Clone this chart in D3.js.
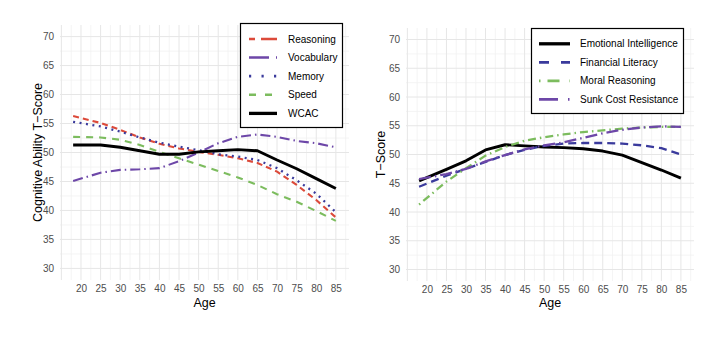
<!DOCTYPE html>
<html><head><meta charset="utf-8">
<script src="https://cdn.jsdelivr.net/npm/d3@7"></script>
<style>
body{margin:0;background:#fff;}
svg text{font-family:"Liberation Sans",Arial,Helvetica,sans-serif;}
</style></head>
<body>
<svg id="chart" width="721" height="356"></svg>
<script>
// ---------- data ----------
const ages = [18,25,30,35,40,45,50,55,60,65,70,75,80,85];
const xTicks = [20,25,30,35,40,45,50,55,60,65,70,75,80,85];
const yTicks = [30,35,40,45,50,55,60,65,70];

const leftNames = ["Reasoning","Vocabulary","Memory","Speed","WCAC"];
const reasoning  = [56.3,55.1,53.9,52.6,51.5,50.7,50.1,49.6,49.0,48.2,46.7,44.4,41.8,38.8];
const vocabulary = [45.1,46.5,47.0,47.1,47.3,48.5,50.0,51.6,52.7,53.1,52.7,52.0,51.6,50.9];
const memory     = [55.3,54.5,53.6,52.6,51.7,51.0,50.4,49.7,49.3,48.7,47.3,45.2,42.9,39.7];
const speed      = [52.7,52.6,52.2,51.3,50.1,49.0,47.9,46.8,45.7,44.4,42.8,41.5,39.9,38.2];
const wcac       = [51.3,51.3,50.9,50.3,49.7,49.7,50.1,50.3,50.5,50.3,48.7,47.2,45.5,43.8];

const rightNames = ["Emotional Intelligence","Financial Literacy","Moral Reasoning","Sunk Cost Resistance"];
const emotional  = [45.4,47.4,48.9,50.8,51.7,51.5,51.3,51.2,51.0,50.6,49.9,48.6,47.3,45.9];
const financial  = [44.4,46.3,47.5,48.7,49.9,50.8,51.5,51.9,52.0,52.0,51.9,51.6,51.1,50.0];
const moral      = [41.3,45.3,47.6,49.8,51.3,52.4,53.0,53.5,53.9,54.2,54.5,54.7,54.8,54.8];
const sunkCost   = [45.7,46.6,47.5,48.8,49.9,50.9,51.6,52.1,52.9,53.7,54.3,54.7,54.9,54.8];

// ---------- styles ----------
const leftStyles = [
  {color:"#dc4a3a", w:2.1, dash:"6,4", kdash:"6,6,16,0"},
  {color:"#6d47a8", w:2.1, dash:"10,4,1.5,4", kdash:"20,7,1.5,10"},
  {color:"#3a3a9c", w:2.3, dash:"2,4.5", kdash:"2.2,10.3"},
  {color:"#7cbc5e", w:2.1, dash:"7,6", kdash:"7,9"},
  {color:"#000000", w:2.9, dash:null, kdash:null}
];
const rightStyles = [
  {color:"#000000", w:2.9, dash:null, kdash:null},
  {color:"#3a3a9c", w:2.3, dash:"8,5", kdash:"10,12"},
  {color:"#7cbc5e", w:2.3, dash:"1.5,4,8,4", kdash:"1.5,7,12,10"},
  {color:"#6d47a8", w:2.3, dash:"12,4,1.5,4", kdash:"19,10,1.5,10"}
];

const svg = d3.select("#chart");

function panel(cfg){
  const x = d3.scaleLinear().domain([14.65,88.35]).range([cfg.x0,cfg.x1]);
  const y = d3.scaleLinear().domain([28,72]).range([cfg.y1,cfg.y0]);
  const g = svg.append("g");
  // minor grid
  const xMinor = d3.range(17.5,88.35,5);
  const yMinor = d3.range(32.5,70,5);
  g.selectAll(".xm").data(xMinor).enter().append("line")
    .attr("x1",d=>x(d)).attr("x2",d=>x(d)).attr("y1",cfg.y0).attr("y2",cfg.y1)
    .attr("stroke","#f1f1f1").attr("stroke-width",0.8);
  g.selectAll(".ym").data(yMinor).enter().append("line")
    .attr("y1",d=>y(d)).attr("y2",d=>y(d)).attr("x1",cfg.x0).attr("x2",cfg.x1)
    .attr("stroke","#f1f1f1").attr("stroke-width",0.8);
  // major grid
  const xMajor = [15].concat(xTicks);
  g.selectAll(".xM").data(xMajor).enter().append("line")
    .attr("x1",d=>x(d)).attr("x2",d=>x(d)).attr("y1",cfg.y0).attr("y2",cfg.y1)
    .attr("stroke","#e6e6e6").attr("stroke-width",1);
  g.selectAll(".yM").data(yTicks).enter().append("line")
    .attr("y1",d=>y(d)).attr("y2",d=>y(d)).attr("x1",cfg.x0).attr("x2",cfg.x1)
    .attr("stroke","#e6e6e6").attr("stroke-width",1);
  // axes (labels only)
  const xa = g.append("g").attr("transform",`translate(0,${cfg.y1})`)
    .call(d3.axisBottom(x).tickValues(xTicks).tickSize(0).tickPadding(5));
  const ya = g.append("g").attr("transform",`translate(${cfg.x0},0)`)
    .call(d3.axisLeft(y).tickValues(yTicks).tickSize(0).tickPadding(6));
  [xa,ya].forEach(a=>{
    a.select(".domain").remove();
    a.selectAll("text").attr("fill","#4d4d4d").style("font-size","10px")
      .style("font-family","'Liberation Sans',Arial,sans-serif");
  });
  // titles
  g.append("text").attr("x",(cfg.x0+cfg.x1)/2).attr("y",307).attr("text-anchor","middle")
    .style("font-size","12.5px").attr("fill","#000").text("Age");
  g.append("text").attr("transform",`translate(${cfg.ytx},${(cfg.y0+cfg.y1)/2}) rotate(-90)`)
    .attr("text-anchor","middle").style("font-size","12.5px").attr("fill","#000").text(cfg.ytitle);
  // lines
  const line = d3.line().x((d,i)=>x(ages[i])).y(d=>y(d)).curve(d3.curveLinear);
  cfg.series.forEach((s,i)=>{
    const st = cfg.styles[i];
    g.append("path").datum(s).attr("d",line).attr("fill","none")
      .attr("stroke",st.color).attr("stroke-width",st.w)
      .attr("stroke-dasharray",st.dash).attr("stroke-linejoin","round");
  });
  // legend
  const L = cfg.legend;
  const lg = g.append("g");
  lg.append("rect").attr("x",L.x).attr("y",L.y).attr("width",L.w).attr("height",L.h)
    .attr("fill","#fff").attr("stroke","#000").attr("stroke-width",1.2);
  cfg.names.forEach((n,i)=>{
    const st = cfg.styles[i];
    const yy = L.row0 + i*L.step;
    lg.append("line").attr("x1",L.kx0).attr("x2",L.kx1).attr("y1",yy).attr("y2",yy)
      .attr("stroke",st.color).attr("stroke-width",st.w+0.4).attr("stroke-dasharray",st.kdash);
    lg.append("text").attr("x",L.tx).attr("y",yy).attr("dy","0.35em")
      .style("font-size","10px").attr("fill","#000").text(n);
  });
}

panel({x0:60,x1:349,y0:25,y1:280,ytx:42,ytitle:"Cognitive Ability T\u2212Score",
  series:[reasoning,vocabulary,memory,speed,wcac],styles:leftStyles,names:leftNames,
  legend:{x:240.5,y:23.5,w:102,h:104,row0:39,step:18.6,kx0:249,kx1:277,tx:288}});
panel({x0:406,x1:694,y0:28,y1:281,ytx:385,ytitle:"T\u2212Score",
  series:[emotional,financial,moral,sunkCost],styles:rightStyles,names:rightNames,
  legend:{x:531.5,y:28.5,w:152,h:85,row0:43.8,step:18.5,kx0:539,kx1:570,tx:580}});
</script>
</body></html>
